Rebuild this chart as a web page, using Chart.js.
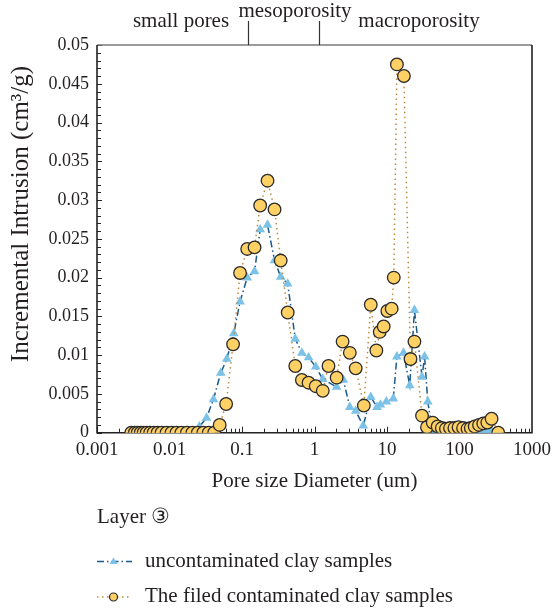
<!DOCTYPE html>
<html>
<head>
<meta charset="utf-8">
<script src="https://cdn.jsdelivr.net/npm/chart.js@4.4.1/dist/chart.umd.min.js"></script>
<style>
  html, body { margin: 0; padding: 0; background: #ffffff; }
  #wrap { width: 557px; height: 612px; position: relative; }
</style>
</head>
<body>
<div id="wrap"><canvas id="poreChart"></canvas></div>
<script>
// ---- data ----
const uncontX = [0.00297, 0.00332, 0.00364, 0.00401, 0.0044, 0.00484, 0.00541, 0.00604, 0.00685, 0.00777,
  0.0091, 0.01065, 0.01247, 0.0146, 0.01737, 0.02066,
  0.0258, 0.0324, 0.0404, 0.0509, 0.0617, 0.077, 0.094, 0.118, 0.149, 0.178, 0.225, 0.281, 0.342, 0.427,
  0.543, 0.67, 0.828, 1.04, 1.30, 2.02, 2.5, 3.07, 3.7, 4.7, 5.97, 7.3, 8.1, 9.8, 12.2, 13.7, 16.9, 20.6,
  23.9, 30.4, 33, 36.5, 42.7, 50, 57, 65, 74, 85, 97, 112, 129, 143, 162, 186, 213, 242, 277, 342];
const uncontY = [0, 0, 0, 0, 0, 0, 0, 0, 0, 0, 0, 0, 0, 0, 0, 0,
  0.0008, 0.0019, 0.0043, 0.0077, 0.0095, 0.0128, 0.0169, 0.0200, 0.0208, 0.0262, 0.0268, 0.0222, 0.0201, 0.0192,
  0.0121, 0.0103, 0.0097, 0.0085, 0.0069, 0.0059, 0.0068, 0.0033, 0.0028, 0.0009, 0.0046, 0.0033, 0.0036, 0.0040,
  0.0044, 0.0098, 0.0103, 0.0061, 0.0158, 0.0072, 0.0098, 0.0040, 0, 0, 0, 0, 0, 0, 0.0001, 0.0001, 0.0002,
  0.0002, 0.0003, 0.0003, 0.0003, 0.0003, 0.0002, 0];

const filedX = [0.00297, 0.00332, 0.00364, 0.00401, 0.0044, 0.00484, 0.00541, 0.00604, 0.00685, 0.00777,
  0.0091, 0.01065, 0.01247, 0.0146, 0.01737, 0.02066, 0.02457, 0.02923, 0.03476, 0.04134,
  0.0492, 0.0604, 0.0753, 0.094, 0.118, 0.149, 0.178, 0.225, 0.281, 0.342, 0.427, 0.543, 0.67, 0.828, 1.04,
  1.30, 1.56, 2.02, 2.44, 3.07, 3.7, 4.79, 5.97, 7.13, 7.94, 9.0, 10.1, 11.6, 12.4, 13.7, 17.1, 21.1, 23.9,
  30.4, 35.6, 42.7, 50, 57, 65, 74, 85, 97, 112, 129, 143, 162, 186, 213, 242, 277, 342];
const filedY = [0, 0, 0, 0, 0, 0, 0, 0, 0, 0, 0, 0, 0, 0, 0, 0, 0, 0, 0, 0,
  0.001, 0.0037, 0.0114, 0.0206, 0.0237, 0.0239, 0.0293, 0.0325, 0.0288, 0.0222, 0.0155, 0.0086, 0.0068,
  0.00645, 0.0060, 0.0054, 0.0086, 0.0071, 0.01175, 0.0103, 0.0083, 0.0035, 0.0165, 0.0106, 0.0130, 0.0137,
  0.0157, 0.0160, 0.0200, 0.0475, 0.0460, 0.0095, 0.01175, 0.0022, 0.0007, 0.0013, 0.0008, 0.0006, 0.0005,
  0.0006, 0.0006, 0.0007, 0.0006, 0.0005, 0.0006, 0.0008, 0.0010, 0.0012, 0.0013, 0.0018, 0];

const xTickValues = [0.001, 0.01, 0.1, 1, 10, 100, 1000];
const yTickValues = [0, 0.005, 0.01, 0.015, 0.02, 0.025, 0.03, 0.035, 0.04, 0.045, 0.05];

const seriesNames = ['uncontaminated clay samples', 'The filed contaminated clay samples'];
const xTitle = 'Pore size Diameter (um)';
const yTitle = 'Incremental Intrusion (cm³/g)';
const legendTitle = 'Layer ③';
const regionNames = ['small pores', 'mesoporosity', 'macroporosity'];
const regionBounds = [0.12, 1.17];

const SERIF = '"Liberation Serif", "DejaVu Serif", serif';

// ---- styles ----
const triFill = '#7cc2e7';
const triLine = '#1b5a88';
const triDash = [7, 3, 1.5, 3];
const circFill = '#ffd063';
const circEdge = '#2a2a2a';
const circLine = '#c08a3e';
const circDash = [1.5, 3.5];

const toPoints = (xs, ys) => xs.map((x, i) => ({ x: x, y: ys[i] }));

// inward ticks, frame, titles, region notes and legend
const decorPlugin = {
    id: 'decor',
    beforeDatasetsDraw(chart) {
        const { ctx, chartArea: a, scales: { x, y } } = chart;
        ctx.save();
        ctx.strokeStyle = '#262626';
        ctx.lineWidth = 1;
        ctx.beginPath();
        for (let k = 0; k <= 50; k++) {
            const py = Math.round(y.getPixelForValue(k / 1000)) + 0.5;
            const len = k % 5 === 0 ? 5 : 4;
            ctx.moveTo(a.left, py);
            ctx.lineTo(a.left + len, py);
        }
        for (let e = -3; e < 3; e++) {
            for (let m = 1; m <= 9; m++) {
                const px = Math.round(x.getPixelForValue(m * Math.pow(10, e))) + 0.5;
                const len = m === 1 ? 6 : 4;
                ctx.moveTo(px, a.bottom);
                ctx.lineTo(px, a.bottom - len);
            }
        }
        ctx.stroke();

        // frame
        ctx.lineWidth = 1.6;
        ctx.strokeStyle = '#7a7a7a';
        ctx.beginPath();
        ctx.moveTo(a.left, a.top);
        ctx.lineTo(a.right, a.top);
        ctx.stroke();
        ctx.strokeStyle = '#222';
        ctx.beginPath();
        ctx.moveTo(a.left, a.top);
        ctx.lineTo(a.left, a.bottom);
        ctx.lineTo(a.right, a.bottom);
        ctx.lineTo(a.right, a.top);
        ctx.stroke();
        ctx.restore();
    },
    afterDraw(chart) {
        const { ctx, chartArea: a, scales: { x } } = chart;
        ctx.save();
        ctx.fillStyle = '#231f20';
        ctx.textBaseline = 'alphabetic';

        // axis titles
        ctx.font = '21px ' + SERIF;
        ctx.textAlign = 'center';
        ctx.fillText(xTitle, (a.left + a.right) / 2, 487);
        ctx.save();
        ctx.translate(27.5, 214);
        ctx.rotate(-Math.PI / 2);
        ctx.font = '25px ' + SERIF;
        ctx.fillText(yTitle, 0, 0);
        ctx.restore();

        // region notes above the plot
        ctx.strokeStyle = '#333';
        ctx.lineWidth = 1.2;
        ctx.beginPath();
        regionBounds.forEach(v => {
            const px = Math.round(x.getPixelForValue(v)) + 0.5;
            ctx.moveTo(px, 21);
            ctx.lineTo(px, a.top);
        });
        ctx.stroke();
        ctx.font = '21px ' + SERIF;
        ctx.fillText(regionNames[0], 181, 27);
        ctx.fillText(regionNames[1], 295, 17);
        ctx.fillText(regionNames[2], 419, 27);

        // legend
        ctx.textAlign = 'left';
        ctx.fillText(legendTitle, 97, 523);
        const rows = [
            { y: 561.5, dash: triDash, color: triLine, marker: 'tri' },
            { y: 597, dash: circDash, color: circLine, marker: 'circ' }
        ];
        rows.forEach((r, i) => {
            ctx.save();
            ctx.strokeStyle = r.color;
            ctx.lineWidth = 1.5;
            ctx.setLineDash(r.dash);
            ctx.beginPath();
            ctx.moveTo(97, r.y);
            ctx.lineTo(132, r.y);
            ctx.stroke();
            ctx.setLineDash([]);
            if (r.marker === 'tri') {
                ctx.fillStyle = triFill;
                ctx.beginPath();
                ctx.moveTo(113.5, r.y - 4);
                ctx.lineTo(117.5, r.y + 2.5);
                ctx.lineTo(109.5, r.y + 2.5);
                ctx.closePath();
                ctx.fill();
            } else {
                ctx.fillStyle = circFill;
                ctx.strokeStyle = circEdge;
                ctx.lineWidth = 1.2;
                ctx.beginPath();
                ctx.arc(113.5, r.y, 4, 0, Math.PI * 2);
                ctx.fill();
                ctx.stroke();
            }
            ctx.restore();
            ctx.fillText(seriesNames[i], 145, r.y + 5);
        });
        ctx.restore();
    }
};

const canvas = document.getElementById('poreChart');
new Chart(canvas.getContext('2d'), {
    type: 'line',
    data: {
        datasets: [
            {
                label: seriesNames[0],
                data: toPoints(uncontX, uncontY),
                order: 1,
                borderColor: triLine,
                borderWidth: 1.5,
                borderDash: triDash,
                backgroundColor: triFill,
                pointStyle: 'triangle',
                pointRadius: 5.6,
                pointBackgroundColor: triFill,
                pointBorderColor: triFill,
                pointBorderWidth: 0,
                tension: 0,
                fill: false
            },
            {
                label: seriesNames[1],
                data: toPoints(filedX, filedY),
                order: 0,
                borderColor: circLine,
                borderWidth: 1.5,
                borderDash: circDash,
                backgroundColor: circFill,
                pointStyle: 'circle',
                pointRadius: 6.3,
                pointBackgroundColor: circFill,
                pointBorderColor: circEdge,
                pointBorderWidth: 1.3,
                tension: 0,
                fill: false
            }
        ]
    },
    options: {
        responsive: true,
        maintainAspectRatio: false,
        animation: false,
        events: [],
        layout: { padding: { left: 0, right: 22, top: 45, bottom: 0 } },
        plugins: {
            legend: { display: false },
            tooltip: { enabled: false }
        },
        scales: {
            x: {
                type: 'logarithmic',
                min: 0.001,
                max: 1000,
                afterBuildTicks: (s) => { s.ticks = xTickValues.map(v => ({ value: v })); },
                afterFit: (s) => { s.height = 179.3; },
                grid: { display: false, drawTicks: false },
                border: { display: false },
                ticks: {
                    color: '#231f20',
                    padding: 6,
                    maxRotation: 0,
                    autoSkip: false,
                    font: { family: SERIF, size: 19 },
                    callback: (v) => String(v)
                }
            },
            y: {
                min: 0,
                max: 0.05,
                afterBuildTicks: (s) => { s.ticks = yTickValues.map(v => ({ value: v })); },
                afterFit: (s) => { s.width = 97; },
                grid: { display: false, drawTicks: false },
                border: { display: false },
                ticks: {
                    color: '#231f20',
                    padding: 8,
                    autoSkip: false,
                    font: { family: SERIF, size: 18 },
                    callback: (v) => String(Number(v.toFixed(3)))
                }
            }
        }
    },
    plugins: [decorPlugin]
});
</script>
</body>
</html>
